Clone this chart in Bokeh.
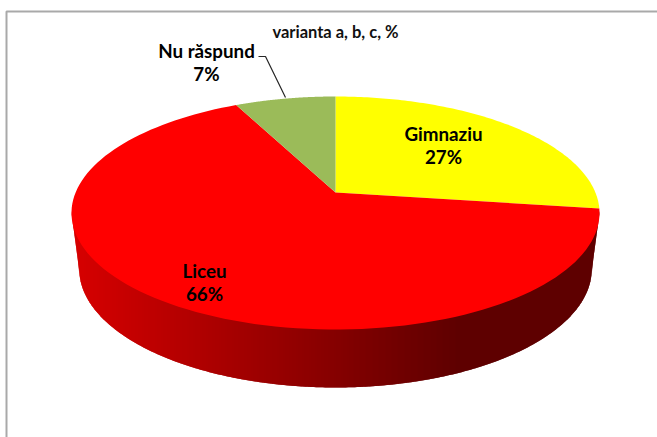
import numpy as np
from bokeh.plotting import figure
from bokeh.embed import file_html
from bokeh.resources import INLINE
from bokeh.core.properties import value
from bokeh.models import Range1d

categories = ["Gimnaziu", "Liceu", "Nu răspund"]
shares = [27.2, 65.5, 7.3]
percent_labels = ["27%", "66%", "7%"]
slice_colors = ["#ffff00", "#ff0000", "#9bbb59"]
title_text = "varianta a, b, c, %"

W, H = 657, 437
CX, CY = 335.0, 192.0
A, B, K = 112.9, 259.9, 0.176


def project(theta):
    u, v = np.sin(theta), np.cos(theta)
    d = 1 + K * v
    return CX + B * u / d, CY - A * v / d


p = figure(width=W, height=H, x_range=Range1d(0, W), y_range=Range1d(H, 0),
           output_backend="svg", toolbar_location=None, min_border=0,
           outline_line_color=None, background_fill_color="white",
           border_fill_color="white")
p.axis.visible = False
p.grid.visible = False

TOP_C, TOP_RX, TOP_RY = 212.5, 264.0, 116.5
BOT_C, BOT_RX, BOT_RY = 268.0, 256.5, 119.0


def lower(x, c, rx, ry):
    return c + ry * np.sqrt(np.clip(1 - ((x - CX) / rx) ** 2, 0, 1))


def wall_bottom(x):
    if abs(x - CX) <= BOT_RX:
        return lower(x, BOT_C, BOT_RX, BOT_RY)
    f = (TOP_RX - abs(x - CX)) / (TOP_RX - BOT_RX)
    return TOP_C + (BOT_C - TOP_C) * f


edges = np.arange(CX - TOP_RX, CX + TOP_RX, 1.0)
for x0 in edges:
    x1 = min(x0 + 2.0, CX + TOP_RX)
    f = min(1.0, max(0.0, (x0 + 0.5 - 75) / 385))
    r = int(round(214 + (94 - 214) * f))
    col = f"#{r:02x}0000"
    xs = [x0, x1, x1, x0]
    ys = [lower(x0, TOP_C, TOP_RX, TOP_RY) - 2, lower(x1, TOP_C, TOP_RX, TOP_RY) - 2,
          wall_bottom(x1), wall_bottom(x0)]
    p.patch(xs, ys, fill_color=col, line_color=None)

start = 0.0
total = sum(shares)
for share, col in zip(shares, slice_colors):
    end = start + share / total * 2 * np.pi
    th = np.linspace(start, end, 120)
    x, y = project(th)
    p.patch([CX, *x], [CY, *y], fill_color=col, line_color=None)
    start = end

p.line([6, 6, W], [H, 11, 11], line_color="#a9a9a9", line_width=2)
p.line([258, 265, 285], [56, 56, 97], line_color="#262626", line_width=1.2)

label_x = [443, 204, 206]
label_y = [133, 270, 50]
percent_y = [156, 293, 73]
font = value("Lato")
p.text(label_x, label_y, text=categories, text_font=font, text_font_style="bold",
       text_font_size="18.8px", text_align="center", text_baseline="middle", text_color="#000000")
p.text(label_x, percent_y, text=percent_labels, text_font=font, text_font_style="bold",
       text_font_size="18.8px", text_align="center", text_baseline="middle", text_color="#000000")
p.text([335], [31], text=[title_text], text_font=font, text_font_style="bold",
       text_font_size="16.5px", text_align="center", text_baseline="middle", text_color="#111111")

open("out.html", "w").write(file_html(p, INLINE))
